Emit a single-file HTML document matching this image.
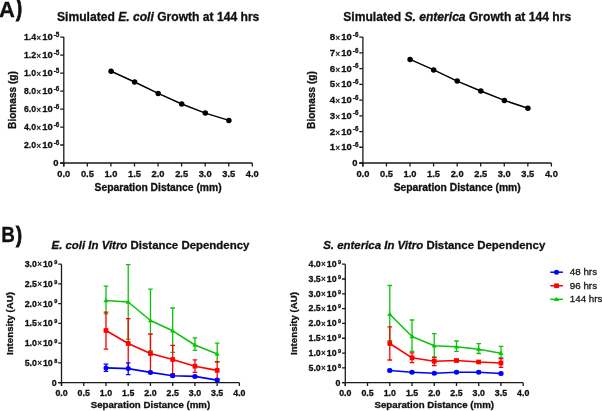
<!DOCTYPE html><html><head><meta charset="utf-8"><style>html,body{margin:0;padding:0;background:#fff;overflow:hidden}svg{display:block;will-change:transform}text{font-family:"Liberation Sans",sans-serif;fill:#111;stroke:#111;stroke-width:0.3px}</style></head><body>
<svg width="602" height="411" viewBox="0 0 602 411">
<rect width="602" height="411" fill="#fff"/>
<text x="-1.1" y="17.1" font-size="22" font-weight="bold">A</text>
<text transform="translate(15.9 16.1) scale(0.8 1)" font-size="23" font-weight="bold" style="stroke-width:0.9px">)</text>
<text transform="translate(1.2 242) scale(0.84 1)" font-size="22.5" font-weight="bold">B</text>
<text transform="translate(16 241.6) scale(0.8 1)" font-size="22.5" font-weight="bold" style="stroke-width:0.9px">)</text>
<path d="M63.80 37.10 V166.60 M60.20 163.00 H252.30" stroke="#1a1a1a" stroke-width="1.3" fill="none"/>
<path d="M60.20 37.10 H63.80 M60.20 55.09 H63.80 M60.20 73.07 H63.80 M60.20 91.06 H63.80 M60.20 109.04 H63.80 M60.20 127.03 H63.80 M60.20 145.01 H63.80 M60.20 163.00 H63.80 M63.80 163.00 V166.60 M87.36 163.00 V166.60 M110.92 163.00 V166.60 M134.49 163.00 V166.60 M158.05 163.00 V166.60 M181.61 163.00 V166.60 M205.18 163.00 V166.60 M228.74 163.00 V166.60 M252.30 163.00 V166.60 " stroke="#1a1a1a" stroke-width="1.3" fill="none"/>
<text transform="translate(36.15 40.25) scale(0.9 1)" font-size="9.7" font-weight="bold" text-anchor="end">1.4</text>
<text x="38.70" y="41.10" font-size="8.4" text-anchor="middle">×</text>
<text transform="translate(52.70 40.25) scale(0.97 1)" font-size="9.7" font-weight="bold" text-anchor="end">10</text>
<text x="59.30" y="36.80" font-size="6.3" font-weight="bold" text-anchor="end">-5</text>
<text transform="translate(36.15 58.24) scale(0.9 1)" font-size="9.7" font-weight="bold" text-anchor="end">1.2</text>
<text x="38.70" y="59.09" font-size="8.4" text-anchor="middle">×</text>
<text transform="translate(52.70 58.24) scale(0.97 1)" font-size="9.7" font-weight="bold" text-anchor="end">10</text>
<text x="59.30" y="54.79" font-size="6.3" font-weight="bold" text-anchor="end">-5</text>
<text transform="translate(36.15 76.22) scale(0.9 1)" font-size="9.7" font-weight="bold" text-anchor="end">1.0</text>
<text x="38.70" y="77.07" font-size="8.4" text-anchor="middle">×</text>
<text transform="translate(52.70 76.22) scale(0.97 1)" font-size="9.7" font-weight="bold" text-anchor="end">10</text>
<text x="59.30" y="72.77" font-size="6.3" font-weight="bold" text-anchor="end">-5</text>
<text transform="translate(36.15 94.21) scale(0.9 1)" font-size="9.7" font-weight="bold" text-anchor="end">8.0</text>
<text x="38.70" y="95.06" font-size="8.4" text-anchor="middle">×</text>
<text transform="translate(52.70 94.21) scale(0.97 1)" font-size="9.7" font-weight="bold" text-anchor="end">10</text>
<text x="59.30" y="90.76" font-size="6.3" font-weight="bold" text-anchor="end">-6</text>
<text transform="translate(36.15 112.19) scale(0.9 1)" font-size="9.7" font-weight="bold" text-anchor="end">6.0</text>
<text x="38.70" y="113.04" font-size="8.4" text-anchor="middle">×</text>
<text transform="translate(52.70 112.19) scale(0.97 1)" font-size="9.7" font-weight="bold" text-anchor="end">10</text>
<text x="59.30" y="108.74" font-size="6.3" font-weight="bold" text-anchor="end">-6</text>
<text transform="translate(36.15 130.18) scale(0.9 1)" font-size="9.7" font-weight="bold" text-anchor="end">4.0</text>
<text x="38.70" y="131.03" font-size="8.4" text-anchor="middle">×</text>
<text transform="translate(52.70 130.18) scale(0.97 1)" font-size="9.7" font-weight="bold" text-anchor="end">10</text>
<text x="59.30" y="126.73" font-size="6.3" font-weight="bold" text-anchor="end">-6</text>
<text transform="translate(36.15 148.16) scale(0.9 1)" font-size="9.7" font-weight="bold" text-anchor="end">2.0</text>
<text x="38.70" y="149.01" font-size="8.4" text-anchor="middle">×</text>
<text transform="translate(52.70 148.16) scale(0.97 1)" font-size="9.7" font-weight="bold" text-anchor="end">10</text>
<text x="59.30" y="144.71" font-size="6.3" font-weight="bold" text-anchor="end">-6</text>
<text x="58.39" y="166.15" font-size="9.41" font-weight="bold" text-anchor="end">0</text>
<text x="63.80" y="177.20" font-size="9.3" font-weight="bold" text-anchor="middle">0.0</text>
<text x="87.36" y="177.20" font-size="9.3" font-weight="bold" text-anchor="middle">0.5</text>
<text x="110.92" y="177.20" font-size="9.3" font-weight="bold" text-anchor="middle">1.0</text>
<text x="134.49" y="177.20" font-size="9.3" font-weight="bold" text-anchor="middle">1.5</text>
<text x="158.05" y="177.20" font-size="9.3" font-weight="bold" text-anchor="middle">2.0</text>
<text x="181.61" y="177.20" font-size="9.3" font-weight="bold" text-anchor="middle">2.5</text>
<text x="205.18" y="177.20" font-size="9.3" font-weight="bold" text-anchor="middle">3.0</text>
<text x="228.74" y="177.20" font-size="9.3" font-weight="bold" text-anchor="middle">3.5</text>
<text x="252.30" y="177.20" font-size="9.3" font-weight="bold" text-anchor="middle">4.0</text>
<text x="158.2" y="21.2" font-size="12.1" font-weight="bold" text-anchor="middle">Simulated <tspan font-style="italic">E. coli</tspan> Growth at 144 hrs</text>
<text x="158.05" y="191.1" font-size="10.3" font-weight="bold" text-anchor="middle">Separation Distance (mm)</text>
<text transform="translate(15.70 100) rotate(-90)" x="0" y="0" font-size="10.1" font-weight="bold" text-anchor="middle">Biomass (g)</text>
<path d="M362.90 37.10 V166.60 M359.30 163.00 H551.40" stroke="#1a1a1a" stroke-width="1.3" fill="none"/>
<path d="M359.30 37.10 H362.90 M359.30 52.84 H362.90 M359.30 68.58 H362.90 M359.30 84.31 H362.90 M359.30 100.05 H362.90 M359.30 115.79 H362.90 M359.30 131.53 H362.90 M359.30 147.26 H362.90 M359.30 163.00 H362.90 M362.90 163.00 V166.60 M386.46 163.00 V166.60 M410.02 163.00 V166.60 M433.59 163.00 V166.60 M457.15 163.00 V166.60 M480.71 163.00 V166.60 M504.27 163.00 V166.60 M527.84 163.00 V166.60 M551.40 163.00 V166.60 " stroke="#1a1a1a" stroke-width="1.3" fill="none"/>
<text transform="translate(335.15 40.25) scale(1.0 1)" font-size="9.7" font-weight="bold" text-anchor="end">8</text>
<text x="337.80" y="41.10" font-size="8.4" text-anchor="middle">×</text>
<text transform="translate(351.80 40.25) scale(0.97 1)" font-size="9.7" font-weight="bold" text-anchor="end">10</text>
<text x="358.40" y="36.80" font-size="6.3" font-weight="bold" text-anchor="end">-6</text>
<text transform="translate(335.15 55.99) scale(1.0 1)" font-size="9.7" font-weight="bold" text-anchor="end">7</text>
<text x="337.80" y="56.84" font-size="8.4" text-anchor="middle">×</text>
<text transform="translate(351.80 55.99) scale(0.97 1)" font-size="9.7" font-weight="bold" text-anchor="end">10</text>
<text x="358.40" y="52.54" font-size="6.3" font-weight="bold" text-anchor="end">-6</text>
<text transform="translate(335.15 71.73) scale(1.0 1)" font-size="9.7" font-weight="bold" text-anchor="end">6</text>
<text x="337.80" y="72.58" font-size="8.4" text-anchor="middle">×</text>
<text transform="translate(351.80 71.73) scale(0.97 1)" font-size="9.7" font-weight="bold" text-anchor="end">10</text>
<text x="358.40" y="68.28" font-size="6.3" font-weight="bold" text-anchor="end">-6</text>
<text transform="translate(335.15 87.46) scale(1.0 1)" font-size="9.7" font-weight="bold" text-anchor="end">5</text>
<text x="337.80" y="88.31" font-size="8.4" text-anchor="middle">×</text>
<text transform="translate(351.80 87.46) scale(0.97 1)" font-size="9.7" font-weight="bold" text-anchor="end">10</text>
<text x="358.40" y="84.01" font-size="6.3" font-weight="bold" text-anchor="end">-6</text>
<text transform="translate(335.15 103.20) scale(1.0 1)" font-size="9.7" font-weight="bold" text-anchor="end">4</text>
<text x="337.80" y="104.05" font-size="8.4" text-anchor="middle">×</text>
<text transform="translate(351.80 103.20) scale(0.97 1)" font-size="9.7" font-weight="bold" text-anchor="end">10</text>
<text x="358.40" y="99.75" font-size="6.3" font-weight="bold" text-anchor="end">-6</text>
<text transform="translate(335.15 118.94) scale(1.0 1)" font-size="9.7" font-weight="bold" text-anchor="end">3</text>
<text x="337.80" y="119.79" font-size="8.4" text-anchor="middle">×</text>
<text transform="translate(351.80 118.94) scale(0.97 1)" font-size="9.7" font-weight="bold" text-anchor="end">10</text>
<text x="358.40" y="115.49" font-size="6.3" font-weight="bold" text-anchor="end">-6</text>
<text transform="translate(335.15 134.68) scale(1.0 1)" font-size="9.7" font-weight="bold" text-anchor="end">2</text>
<text x="337.80" y="135.53" font-size="8.4" text-anchor="middle">×</text>
<text transform="translate(351.80 134.68) scale(0.97 1)" font-size="9.7" font-weight="bold" text-anchor="end">10</text>
<text x="358.40" y="131.22" font-size="6.3" font-weight="bold" text-anchor="end">-6</text>
<text transform="translate(335.15 150.41) scale(1.0 1)" font-size="9.7" font-weight="bold" text-anchor="end">1</text>
<text x="337.80" y="151.26" font-size="8.4" text-anchor="middle">×</text>
<text transform="translate(351.80 150.41) scale(0.97 1)" font-size="9.7" font-weight="bold" text-anchor="end">10</text>
<text x="358.40" y="146.96" font-size="6.3" font-weight="bold" text-anchor="end">-6</text>
<text x="357.49" y="166.15" font-size="9.41" font-weight="bold" text-anchor="end">0</text>
<text x="362.90" y="177.20" font-size="9.3" font-weight="bold" text-anchor="middle">0.0</text>
<text x="386.46" y="177.20" font-size="9.3" font-weight="bold" text-anchor="middle">0.5</text>
<text x="410.02" y="177.20" font-size="9.3" font-weight="bold" text-anchor="middle">1.0</text>
<text x="433.59" y="177.20" font-size="9.3" font-weight="bold" text-anchor="middle">1.5</text>
<text x="457.15" y="177.20" font-size="9.3" font-weight="bold" text-anchor="middle">2.0</text>
<text x="480.71" y="177.20" font-size="9.3" font-weight="bold" text-anchor="middle">2.5</text>
<text x="504.27" y="177.20" font-size="9.3" font-weight="bold" text-anchor="middle">3.0</text>
<text x="527.84" y="177.20" font-size="9.3" font-weight="bold" text-anchor="middle">3.5</text>
<text x="551.40" y="177.20" font-size="9.3" font-weight="bold" text-anchor="middle">4.0</text>
<text x="457.2" y="21.2" font-size="12.1" font-weight="bold" text-anchor="middle">Simulated <tspan font-style="italic">S. enterica</tspan> Growth at 144 hrs</text>
<text x="457.15" y="191.1" font-size="10.3" font-weight="bold" text-anchor="middle">Separation Distance (mm)</text>
<text transform="translate(314.80 100) rotate(-90)" x="0" y="0" font-size="10.1" font-weight="bold" text-anchor="middle">Biomass (g)</text>
<path d="M111.1 71.3 L134.6 82.0 L158.2 93.4 L181.7 104.0 L205.3 113.1 L228.9 120.4" stroke="#000" stroke-width="1.5" fill="none" stroke-linejoin="round"/>
<circle cx="111.1" cy="71.3" r="2.75" fill="#000"/>
<circle cx="134.6" cy="82.0" r="2.75" fill="#000"/>
<circle cx="158.2" cy="93.4" r="2.75" fill="#000"/>
<circle cx="181.7" cy="104.0" r="2.75" fill="#000"/>
<circle cx="205.3" cy="113.1" r="2.75" fill="#000"/>
<circle cx="228.9" cy="120.4" r="2.75" fill="#000"/>
<path d="M410.1 59.4 L433.7 69.9 L457.2 81.1 L480.8 91.0 L504.4 100.4 L527.9 108.3" stroke="#000" stroke-width="1.5" fill="none" stroke-linejoin="round"/>
<circle cx="410.1" cy="59.4" r="2.75" fill="#000"/>
<circle cx="433.7" cy="69.9" r="2.75" fill="#000"/>
<circle cx="457.2" cy="81.1" r="2.75" fill="#000"/>
<circle cx="480.8" cy="91.0" r="2.75" fill="#000"/>
<circle cx="504.4" cy="100.4" r="2.75" fill="#000"/>
<circle cx="527.9" cy="108.3" r="2.75" fill="#000"/>
<path d="M61.50 264.20 V386.00 M58.20 382.70 H239.40" stroke="#1a1a1a" stroke-width="1.3" fill="none"/>
<path d="M58.20 264.20 H61.50 M58.20 283.95 H61.50 M58.20 303.70 H61.50 M58.20 323.45 H61.50 M58.20 343.20 H61.50 M58.20 362.95 H61.50 M58.20 382.70 H61.50 M61.50 382.70 V386.00 M83.74 382.70 V386.00 M105.97 382.70 V386.00 M128.21 382.70 V386.00 M150.45 382.70 V386.00 M172.69 382.70 V386.00 M194.93 382.70 V386.00 M217.16 382.70 V386.00 M239.40 382.70 V386.00 " stroke="#1a1a1a" stroke-width="1.3" fill="none"/>
<text x="36.95" y="267.05" font-size="8.8" font-weight="bold" text-anchor="end">3.0</text>
<text x="39.55" y="267.35" font-size="8.2" text-anchor="middle">×</text>
<text x="52.77" y="267.05" font-size="8.8" font-weight="bold" text-anchor="end">10</text>
<text x="57.20" y="263.90" font-size="5.5" font-weight="bold" text-anchor="end">9</text>
<text x="36.95" y="286.80" font-size="8.8" font-weight="bold" text-anchor="end">2.5</text>
<text x="39.55" y="287.10" font-size="8.2" text-anchor="middle">×</text>
<text x="52.77" y="286.80" font-size="8.8" font-weight="bold" text-anchor="end">10</text>
<text x="57.20" y="283.65" font-size="5.5" font-weight="bold" text-anchor="end">9</text>
<text x="36.95" y="306.55" font-size="8.8" font-weight="bold" text-anchor="end">2.0</text>
<text x="39.55" y="306.85" font-size="8.2" text-anchor="middle">×</text>
<text x="52.77" y="306.55" font-size="8.8" font-weight="bold" text-anchor="end">10</text>
<text x="57.20" y="303.40" font-size="5.5" font-weight="bold" text-anchor="end">9</text>
<text x="36.95" y="326.30" font-size="8.8" font-weight="bold" text-anchor="end">1.5</text>
<text x="39.55" y="326.60" font-size="8.2" text-anchor="middle">×</text>
<text x="52.77" y="326.30" font-size="8.8" font-weight="bold" text-anchor="end">10</text>
<text x="57.20" y="323.15" font-size="5.5" font-weight="bold" text-anchor="end">9</text>
<text x="36.95" y="346.05" font-size="8.8" font-weight="bold" text-anchor="end">1.0</text>
<text x="39.55" y="346.35" font-size="8.2" text-anchor="middle">×</text>
<text x="52.77" y="346.05" font-size="8.8" font-weight="bold" text-anchor="end">10</text>
<text x="57.20" y="342.90" font-size="5.5" font-weight="bold" text-anchor="end">9</text>
<text x="36.95" y="365.80" font-size="8.8" font-weight="bold" text-anchor="end">5.0</text>
<text x="39.55" y="366.10" font-size="8.2" text-anchor="middle">×</text>
<text x="52.77" y="365.80" font-size="8.8" font-weight="bold" text-anchor="end">10</text>
<text x="57.20" y="362.65" font-size="5.5" font-weight="bold" text-anchor="end">8</text>
<text x="56.65" y="385.65" font-size="8.8" font-weight="bold" text-anchor="end">0</text>
<text x="61.50" y="396.40" font-size="8.8" font-weight="bold" text-anchor="middle">0.0</text>
<text x="83.74" y="396.40" font-size="8.8" font-weight="bold" text-anchor="middle">0.5</text>
<text x="105.97" y="396.40" font-size="8.8" font-weight="bold" text-anchor="middle">1.0</text>
<text x="128.21" y="396.40" font-size="8.8" font-weight="bold" text-anchor="middle">1.5</text>
<text x="150.45" y="396.40" font-size="8.8" font-weight="bold" text-anchor="middle">2.0</text>
<text x="172.69" y="396.40" font-size="8.8" font-weight="bold" text-anchor="middle">2.5</text>
<text x="194.93" y="396.40" font-size="8.8" font-weight="bold" text-anchor="middle">3.0</text>
<text x="217.16" y="396.40" font-size="8.8" font-weight="bold" text-anchor="middle">3.5</text>
<text x="239.40" y="396.40" font-size="8.8" font-weight="bold" text-anchor="middle">4.0</text>
<text x="150.45" y="249.2" font-size="11.45" font-weight="bold" text-anchor="middle"><tspan font-style="italic">E. coli In Vitro</tspan> Distance Dependency</text>
<text x="150.45" y="408.2" font-size="9.7" font-weight="bold" text-anchor="middle">Separation Distance (mm)</text>
<text transform="translate(12.90 323.5) rotate(-90)" x="0" y="0" font-size="9.7" font-weight="bold" text-anchor="middle">Intensity (AU)</text>
<path d="M345.30 264.20 V386.00 M342.00 382.70 H523.20" stroke="#1a1a1a" stroke-width="1.3" fill="none"/>
<path d="M342.00 264.20 H345.30 M342.00 279.01 H345.30 M342.00 293.82 H345.30 M342.00 308.64 H345.30 M342.00 323.45 H345.30 M342.00 338.26 H345.30 M342.00 353.07 H345.30 M342.00 367.89 H345.30 M342.00 382.70 H345.30 M345.30 382.70 V386.00 M367.54 382.70 V386.00 M389.78 382.70 V386.00 M412.01 382.70 V386.00 M434.25 382.70 V386.00 M456.49 382.70 V386.00 M478.73 382.70 V386.00 M500.96 382.70 V386.00 M523.20 382.70 V386.00 " stroke="#1a1a1a" stroke-width="1.3" fill="none"/>
<text x="320.75" y="267.05" font-size="8.8" font-weight="bold" text-anchor="end">4.0</text>
<text x="323.35" y="267.35" font-size="8.2" text-anchor="middle">×</text>
<text x="336.57" y="267.05" font-size="8.8" font-weight="bold" text-anchor="end">10</text>
<text x="341.00" y="263.90" font-size="5.5" font-weight="bold" text-anchor="end">9</text>
<text x="320.75" y="281.86" font-size="8.8" font-weight="bold" text-anchor="end">3.5</text>
<text x="323.35" y="282.16" font-size="8.2" text-anchor="middle">×</text>
<text x="336.57" y="281.86" font-size="8.8" font-weight="bold" text-anchor="end">10</text>
<text x="341.00" y="278.71" font-size="5.5" font-weight="bold" text-anchor="end">9</text>
<text x="320.75" y="296.68" font-size="8.8" font-weight="bold" text-anchor="end">3.0</text>
<text x="323.35" y="296.98" font-size="8.2" text-anchor="middle">×</text>
<text x="336.57" y="296.68" font-size="8.8" font-weight="bold" text-anchor="end">10</text>
<text x="341.00" y="293.53" font-size="5.5" font-weight="bold" text-anchor="end">9</text>
<text x="320.75" y="311.49" font-size="8.8" font-weight="bold" text-anchor="end">2.5</text>
<text x="323.35" y="311.79" font-size="8.2" text-anchor="middle">×</text>
<text x="336.57" y="311.49" font-size="8.8" font-weight="bold" text-anchor="end">10</text>
<text x="341.00" y="308.34" font-size="5.5" font-weight="bold" text-anchor="end">9</text>
<text x="320.75" y="326.30" font-size="8.8" font-weight="bold" text-anchor="end">2.0</text>
<text x="323.35" y="326.60" font-size="8.2" text-anchor="middle">×</text>
<text x="336.57" y="326.30" font-size="8.8" font-weight="bold" text-anchor="end">10</text>
<text x="341.00" y="323.15" font-size="5.5" font-weight="bold" text-anchor="end">9</text>
<text x="320.75" y="341.11" font-size="8.8" font-weight="bold" text-anchor="end">1.5</text>
<text x="323.35" y="341.41" font-size="8.2" text-anchor="middle">×</text>
<text x="336.57" y="341.11" font-size="8.8" font-weight="bold" text-anchor="end">10</text>
<text x="341.00" y="337.96" font-size="5.5" font-weight="bold" text-anchor="end">9</text>
<text x="320.75" y="355.93" font-size="8.8" font-weight="bold" text-anchor="end">1.0</text>
<text x="323.35" y="356.23" font-size="8.2" text-anchor="middle">×</text>
<text x="336.57" y="355.93" font-size="8.8" font-weight="bold" text-anchor="end">10</text>
<text x="341.00" y="352.78" font-size="5.5" font-weight="bold" text-anchor="end">9</text>
<text x="320.75" y="370.74" font-size="8.8" font-weight="bold" text-anchor="end">5.0</text>
<text x="323.35" y="371.04" font-size="8.2" text-anchor="middle">×</text>
<text x="336.57" y="370.74" font-size="8.8" font-weight="bold" text-anchor="end">10</text>
<text x="341.00" y="367.59" font-size="5.5" font-weight="bold" text-anchor="end">8</text>
<text x="340.45" y="385.65" font-size="8.8" font-weight="bold" text-anchor="end">0</text>
<text x="345.30" y="396.40" font-size="8.8" font-weight="bold" text-anchor="middle">0.0</text>
<text x="367.54" y="396.40" font-size="8.8" font-weight="bold" text-anchor="middle">0.5</text>
<text x="389.78" y="396.40" font-size="8.8" font-weight="bold" text-anchor="middle">1.0</text>
<text x="412.01" y="396.40" font-size="8.8" font-weight="bold" text-anchor="middle">1.5</text>
<text x="434.25" y="396.40" font-size="8.8" font-weight="bold" text-anchor="middle">2.0</text>
<text x="456.49" y="396.40" font-size="8.8" font-weight="bold" text-anchor="middle">2.5</text>
<text x="478.73" y="396.40" font-size="8.8" font-weight="bold" text-anchor="middle">3.0</text>
<text x="500.96" y="396.40" font-size="8.8" font-weight="bold" text-anchor="middle">3.5</text>
<text x="523.20" y="396.40" font-size="8.8" font-weight="bold" text-anchor="middle">4.0</text>
<text x="434.25" y="249.2" font-size="11.45" font-weight="bold" text-anchor="middle"><tspan font-style="italic">S. enterica In Vitro</tspan> Distance Dependency</text>
<text x="434.25" y="408.2" font-size="9.7" font-weight="bold" text-anchor="middle">Separation Distance (mm)</text>
<text transform="translate(296.70 323.5) rotate(-90)" x="0" y="0" font-size="9.7" font-weight="bold" text-anchor="middle">Intensity (AU)</text>
<path d="M105.98 286.20 V313.80 M103.68 286.20 H108.28 M103.68 313.80 H108.28 M128.22 264.70 V339.20 M125.92 264.70 H130.52 M125.92 339.20 H130.52 M150.46 289.10 V350.80 M148.16 289.10 H152.76 M148.16 350.80 H152.76 M172.70 308.00 V352.30 M170.40 308.00 H175.00 M170.40 352.30 H175.00 M194.94 337.90 V350.30 M192.64 337.90 H197.24 M192.64 350.30 H197.24 M217.18 343.20 V362.00 M214.88 343.20 H219.48 M214.88 362.00 H219.48 " stroke="#0cc40c" stroke-width="1.3" fill="none"/>
<path d="M105.98 300.50 L128.22 302.00 L150.46 320.50 L172.70 330.80 L194.94 345.00 L217.18 354.00" stroke="#0cc40c" stroke-width="1.6" fill="none" stroke-linejoin="round"/>
<path d="M103.38 302.20 L105.98 298.00 L108.58 302.20 Z" fill="#0cc40c"/>
<path d="M125.62 303.70 L128.22 299.50 L130.82 303.70 Z" fill="#0cc40c"/>
<path d="M147.86 322.20 L150.46 318.00 L153.06 322.20 Z" fill="#0cc40c"/>
<path d="M170.10 332.50 L172.70 328.30 L175.30 332.50 Z" fill="#0cc40c"/>
<path d="M192.34 346.70 L194.94 342.50 L197.54 346.70 Z" fill="#0cc40c"/>
<path d="M214.58 355.70 L217.18 351.50 L219.78 355.70 Z" fill="#0cc40c"/>
<path d="M105.98 312.20 V349.20 M103.68 312.20 H108.28 M103.68 349.20 H108.28 M128.22 318.60 V368.40 M125.92 318.60 H130.52 M125.92 368.40 H130.52 M150.46 334.00 V373.00 M148.16 334.00 H152.76 M148.16 373.00 H152.76 M172.70 345.40 V373.60 M170.40 345.40 H175.00 M170.40 373.60 H175.00 M194.94 359.90 V372.40 M192.64 359.90 H197.24 M192.64 372.40 H197.24 M217.18 361.70 V379.00 M214.88 361.70 H219.48 M214.88 379.00 H219.48 " stroke="#ff0000" stroke-width="1.3" fill="none"/>
<path d="M105.98 330.50 L128.22 343.50 L150.46 353.50 L172.70 359.50 L194.94 366.20 L217.18 370.40" stroke="#ff0000" stroke-width="1.6" fill="none" stroke-linejoin="round"/>
<rect x="103.63" y="328.15" width="4.7" height="4.7" fill="#ff0000"/>
<rect x="125.87" y="341.15" width="4.7" height="4.7" fill="#ff0000"/>
<rect x="148.11" y="351.15" width="4.7" height="4.7" fill="#ff0000"/>
<rect x="170.35" y="357.15" width="4.7" height="4.7" fill="#ff0000"/>
<rect x="192.59" y="363.85" width="4.7" height="4.7" fill="#ff0000"/>
<rect x="214.83" y="368.05" width="4.7" height="4.7" fill="#ff0000"/>
<path d="M105.98 364.20 V371.40 M103.68 364.20 H108.28 M103.68 371.40 H108.28 M128.22 362.80 V374.60 M125.92 362.80 H130.52 M125.92 374.60 H130.52 M150.46 371.40 V373.40 M148.16 371.40 H152.76 M148.16 373.40 H152.76 M172.70 374.70 V376.70 M170.40 374.70 H175.00 M170.40 376.70 H175.00 M194.94 375.40 V377.40 M192.64 375.40 H197.24 M192.64 377.40 H197.24 M217.18 379.10 V381.10 M214.88 379.10 H219.48 M214.88 381.10 H219.48 " stroke="#0000ff" stroke-width="1.3" fill="none"/>
<path d="M105.98 367.90 L128.22 368.60 L150.46 372.40 L172.70 375.70 L194.94 376.40 L217.18 380.10" stroke="#0000ff" stroke-width="1.6" fill="none" stroke-linejoin="round"/>
<circle cx="105.98" cy="367.90" r="2.5" fill="#0000ff"/>
<circle cx="128.22" cy="368.60" r="2.5" fill="#0000ff"/>
<circle cx="150.46" cy="372.40" r="2.5" fill="#0000ff"/>
<circle cx="172.70" cy="375.70" r="2.5" fill="#0000ff"/>
<circle cx="194.94" cy="376.40" r="2.5" fill="#0000ff"/>
<circle cx="217.18" cy="380.10" r="2.5" fill="#0000ff"/>
<path d="M389.78 285.50 V340.60 M387.48 285.50 H392.08 M387.48 340.60 H392.08 M412.02 320.00 V351.50 M409.72 320.00 H414.32 M409.72 351.50 H414.32 M434.26 333.70 V356.80 M431.96 333.70 H436.56 M431.96 356.80 H436.56 M456.50 341.00 V351.40 M454.20 341.00 H458.80 M454.20 351.40 H458.80 M478.74 343.60 V353.50 M476.44 343.60 H481.04 M476.44 353.50 H481.04 M500.98 346.30 V357.60 M498.68 346.30 H503.28 M498.68 357.60 H503.28 " stroke="#0cc40c" stroke-width="1.3" fill="none"/>
<path d="M389.78 314.30 L412.02 336.50 L434.26 345.80 L456.50 346.80 L478.74 349.20 L500.98 353.20" stroke="#0cc40c" stroke-width="1.6" fill="none" stroke-linejoin="round"/>
<path d="M387.18 316.00 L389.78 311.80 L392.38 316.00 Z" fill="#0cc40c"/>
<path d="M409.42 338.20 L412.02 334.00 L414.62 338.20 Z" fill="#0cc40c"/>
<path d="M431.66 347.50 L434.26 343.30 L436.86 347.50 Z" fill="#0cc40c"/>
<path d="M453.90 348.50 L456.50 344.30 L459.10 348.50 Z" fill="#0cc40c"/>
<path d="M476.14 350.90 L478.74 346.70 L481.34 350.90 Z" fill="#0cc40c"/>
<path d="M498.38 354.90 L500.98 350.70 L503.58 354.90 Z" fill="#0cc40c"/>
<path d="M389.78 326.80 V360.00 M387.48 326.80 H392.08 M387.48 360.00 H392.08 M412.02 352.80 V362.60 M409.72 352.80 H414.32 M409.72 362.60 H414.32 M434.26 357.60 V365.60 M431.96 357.60 H436.56 M431.96 365.60 H436.56 M456.50 359.50 V361.50 M454.20 359.50 H458.80 M454.20 361.50 H458.80 M478.74 361.00 V363.00 M476.44 361.00 H481.04 M476.44 363.00 H481.04 M500.98 358.60 V367.30 M498.68 358.60 H503.28 M498.68 367.30 H503.28 " stroke="#ff0000" stroke-width="1.3" fill="none"/>
<path d="M389.78 343.50 L412.02 357.80 L434.26 361.30 L456.50 360.50 L478.74 362.00 L500.98 363.00" stroke="#ff0000" stroke-width="1.6" fill="none" stroke-linejoin="round"/>
<rect x="387.43" y="341.15" width="4.7" height="4.7" fill="#ff0000"/>
<rect x="409.67" y="355.45" width="4.7" height="4.7" fill="#ff0000"/>
<rect x="431.91" y="358.95" width="4.7" height="4.7" fill="#ff0000"/>
<rect x="454.15" y="358.15" width="4.7" height="4.7" fill="#ff0000"/>
<rect x="476.39" y="359.65" width="4.7" height="4.7" fill="#ff0000"/>
<rect x="498.63" y="360.65" width="4.7" height="4.7" fill="#ff0000"/>
<path d="M389.78 369.50 V371.50 M387.48 369.50 H392.08 M387.48 371.50 H392.08 M412.02 371.30 V373.30 M409.72 371.30 H414.32 M409.72 373.30 H414.32 M434.26 372.30 V374.30 M431.96 372.30 H436.56 M431.96 374.30 H436.56 M456.50 371.20 V373.20 M454.20 371.20 H458.80 M454.20 373.20 H458.80 M478.74 371.20 V373.20 M476.44 371.20 H481.04 M476.44 373.20 H481.04 M500.98 372.50 V374.50 M498.68 372.50 H503.28 M498.68 374.50 H503.28 " stroke="#0000ff" stroke-width="1.3" fill="none"/>
<path d="M389.78 370.50 L412.02 372.30 L434.26 373.30 L456.50 372.20 L478.74 372.20 L500.98 373.50" stroke="#0000ff" stroke-width="1.6" fill="none" stroke-linejoin="round"/>
<circle cx="389.78" cy="370.50" r="2.5" fill="#0000ff"/>
<circle cx="412.02" cy="372.30" r="2.5" fill="#0000ff"/>
<circle cx="434.26" cy="373.30" r="2.5" fill="#0000ff"/>
<circle cx="456.50" cy="372.20" r="2.5" fill="#0000ff"/>
<circle cx="478.74" cy="372.20" r="2.5" fill="#0000ff"/>
<circle cx="500.98" cy="373.50" r="2.5" fill="#0000ff"/>
<path d="M550.3 272.20 H562.9" stroke="#0000ff" stroke-width="1.5"/>
<circle cx="556.50" cy="272.20" r="2.5" fill="#0000ff"/>
<text x="569.8" y="275.00" font-size="9.8" style="fill:#222">48 hrs</text>
<path d="M550.3 285.75 H562.9" stroke="#ff0000" stroke-width="1.5"/>
<rect x="554.15" y="283.40" width="4.7" height="4.7" fill="#ff0000"/>
<text x="569.8" y="288.55" font-size="9.8" style="fill:#222">96 hrs</text>
<path d="M550.3 299.30 H562.9" stroke="#0cc40c" stroke-width="1.5"/>
<path d="M553.90 301.00 L556.50 296.80 L559.10 301.00 Z" fill="#0cc40c"/>
<text x="569.8" y="302.10" font-size="9.8" style="fill:#222">144 hrs</text>
</svg></body></html>
